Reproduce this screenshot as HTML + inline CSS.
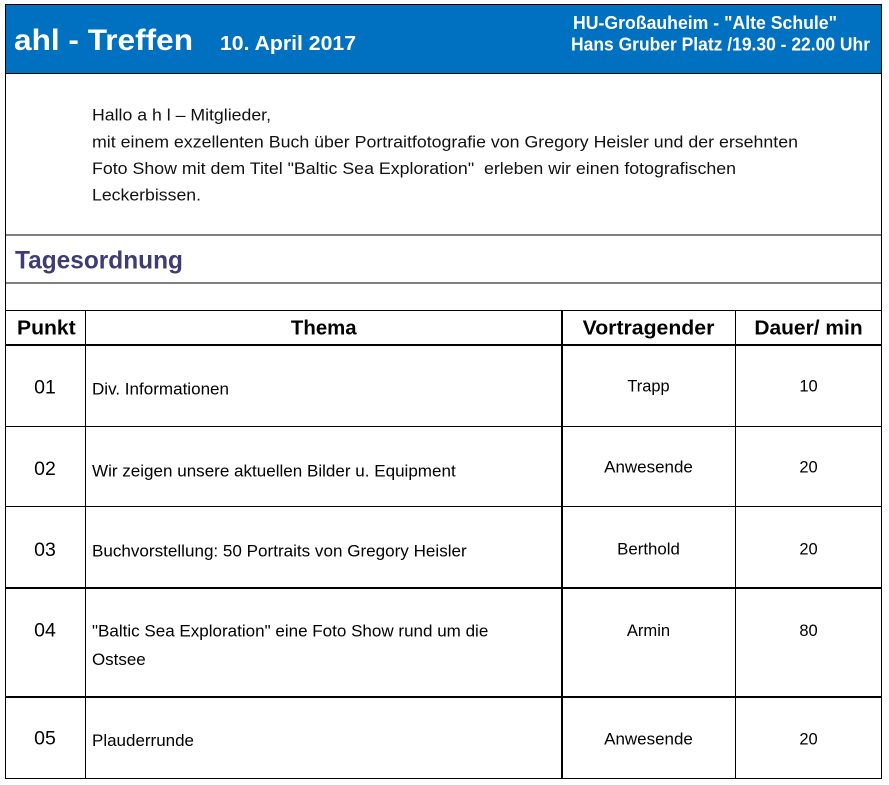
<!DOCTYPE html>
<html>
<head>
<meta charset="utf-8">
<style>
  html,body{margin:0;padding:0;background:#fff;}
  svg{display:block;}
  text{font-family:"Liberation Sans",Arial,sans-serif;}
  .b{font-weight:bold;}
</style>
</head>
<body>
<svg width="889" height="785" viewBox="0 0 889 785" xmlns="http://www.w3.org/2000/svg">
  <rect x="0" y="0" width="889" height="785" fill="#ffffff"/>
  <!-- header blue -->
  <rect x="6" y="5" width="875" height="68" fill="#0070C0"/>
  <!-- frame -->
  <rect x="5" y="4" width="877" height="1" fill="#000"/>
  <rect x="5" y="4" width="1" height="775" fill="#000"/>
  <rect x="881" y="4" width="1" height="775" fill="#000"/>
  <rect x="5" y="73" width="877" height="1" fill="#000"/>
  <!-- gray lines -->
  <rect x="6" y="234" width="875" height="2" fill="#808080"/>
  <rect x="6" y="282" width="875" height="2" fill="#808080"/>
  <!-- table horizontal lines -->
  <rect x="5" y="310" width="877" height="1" fill="#000"/>
  <rect x="5" y="344" width="877" height="2" fill="#000"/>
  <rect x="5" y="426" width="877" height="1" fill="#000"/>
  <rect x="5" y="506" width="877" height="1" fill="#000"/>
  <rect x="5" y="587" width="877" height="2" fill="#000"/>
  <rect x="5" y="696" width="877" height="2" fill="#000"/>
  <rect x="5" y="778" width="877" height="1" fill="#000"/>
  <!-- table vertical lines -->
  <rect x="85" y="310" width="1" height="469" fill="#000"/>
  <rect x="561" y="310" width="2" height="469" fill="#000"/>
  <rect x="735" y="310" width="1" height="469" fill="#000"/>

  <!-- header text -->
  <text class="b" x="14" y="50" font-size="30" fill="#fff" textLength="179" lengthAdjust="spacingAndGlyphs">ahl - Treffen</text>
  <text class="b" x="220" y="50" font-size="20.5" fill="#fff" textLength="136" lengthAdjust="spacingAndGlyphs">10. April 2017</text>
  <text class="b" x="573" y="29" font-size="18" fill="#fff" textLength="264" lengthAdjust="spacingAndGlyphs">HU-Großauheim - "Alte Schule"</text>
  <text class="b" x="571" y="50.5" font-size="18" fill="#fff" textLength="299" lengthAdjust="spacingAndGlyphs">Hans Gruber Platz /19.30 - 22.00 Uhr</text>

  <!-- intro -->
  <text x="92" y="120.7" font-size="17" fill="#111" textLength="179" lengthAdjust="spacingAndGlyphs">Hallo a h l – Mitglieder,</text>
  <text x="92" y="147.3" font-size="17" fill="#111" textLength="706" lengthAdjust="spacingAndGlyphs">mit einem exzellenten Buch über Portraitfotografie von Gregory Heisler und der ersehnten</text>
  <text x="92" y="173.8" font-size="17" fill="#111" textLength="644" lengthAdjust="spacingAndGlyphs" style="white-space:pre">Foto Show mit dem Titel "Baltic Sea Exploration"  erleben wir einen fotografischen</text>
  <text x="92" y="200.3" font-size="17" fill="#111" textLength="109" lengthAdjust="spacingAndGlyphs">Leckerbissen.</text>

  <!-- Tagesordnung -->
  <text class="b" x="15" y="268.3" font-size="25" fill="#3d3d73" textLength="168" lengthAdjust="spacingAndGlyphs">Tagesordnung</text>

  <!-- table header -->
  <text class="b" x="17" y="334.7" font-size="20" fill="#000" textLength="58.7" lengthAdjust="spacingAndGlyphs">Punkt</text>
  <text class="b" x="323.8" y="334.7" font-size="20" fill="#000" text-anchor="middle" textLength="65.7" lengthAdjust="spacingAndGlyphs">Thema</text>
  <text class="b" x="648.5" y="334.7" font-size="20" fill="#000" text-anchor="middle" textLength="131.7" lengthAdjust="spacingAndGlyphs">Vortragender</text>
  <text class="b" x="808.5" y="334.7" font-size="20" fill="#000" text-anchor="middle" textLength="108.3" lengthAdjust="spacingAndGlyphs">Dauer/ min</text>

  <!-- Punkt column -->
  <text x="45" y="393.3" font-size="19.5" fill="#000" text-anchor="middle">01</text>
  <text x="45" y="475" font-size="19.5" fill="#000" text-anchor="middle">02</text>
  <text x="45" y="556" font-size="19.5" fill="#000" text-anchor="middle">03</text>
  <text x="45" y="636.7" font-size="19.5" fill="#000" text-anchor="middle">04</text>
  <text x="45" y="744.3" font-size="19.5" fill="#000" text-anchor="middle">05</text>

  <!-- Thema column -->
  <text x="92" y="394.7" font-size="16.5" fill="#000" textLength="137" lengthAdjust="spacingAndGlyphs">Div. Informationen</text>
  <text x="92" y="476.5" font-size="16.5" fill="#000" textLength="363.7" lengthAdjust="spacingAndGlyphs">Wir zeigen unsere aktuellen Bilder u. Equipment</text>
  <text x="92" y="556.7" font-size="16.5" fill="#000" textLength="374.7" lengthAdjust="spacingAndGlyphs">Buchvorstellung: 50 Portraits von Gregory Heisler</text>
  <text x="92" y="636.5" font-size="16.5" fill="#000" textLength="396.3" lengthAdjust="spacingAndGlyphs">"Baltic Sea Exploration" eine Foto Show rund um die</text>
  <text x="92" y="665" font-size="16.5" fill="#000" textLength="53.7" lengthAdjust="spacingAndGlyphs">Ostsee</text>
  <text x="92" y="746" font-size="16.5" fill="#000" textLength="102" lengthAdjust="spacingAndGlyphs">Plauderrunde</text>

  <!-- Vortragender column -->
  <text x="648.5" y="391.7" font-size="16.5" fill="#000" text-anchor="middle" textLength="42.3" lengthAdjust="spacingAndGlyphs">Trapp</text>
  <text x="648.5" y="472.7" font-size="16.5" fill="#000" text-anchor="middle" textLength="88.7" lengthAdjust="spacingAndGlyphs">Anwesende</text>
  <text x="648.5" y="554.3" font-size="16.5" fill="#000" text-anchor="middle" textLength="62.7" lengthAdjust="spacingAndGlyphs">Berthold</text>
  <text x="648.5" y="636" font-size="16.5" fill="#000" text-anchor="middle" textLength="43.3" lengthAdjust="spacingAndGlyphs">Armin</text>
  <text x="648.5" y="744.3" font-size="16.5" fill="#000" text-anchor="middle" textLength="88.7" lengthAdjust="spacingAndGlyphs">Anwesende</text>

  <!-- Dauer column -->
  <text x="808.5" y="391.7" font-size="16.5" fill="#000" text-anchor="middle">10</text>
  <text x="808.5" y="472.7" font-size="16.5" fill="#000" text-anchor="middle">20</text>
  <text x="808.5" y="554.3" font-size="16.5" fill="#000" text-anchor="middle">20</text>
  <text x="808.5" y="636" font-size="16.5" fill="#000" text-anchor="middle">80</text>
  <text x="808.5" y="744.3" font-size="16.5" fill="#000" text-anchor="middle">20</text>
</svg>
</body>
</html>
